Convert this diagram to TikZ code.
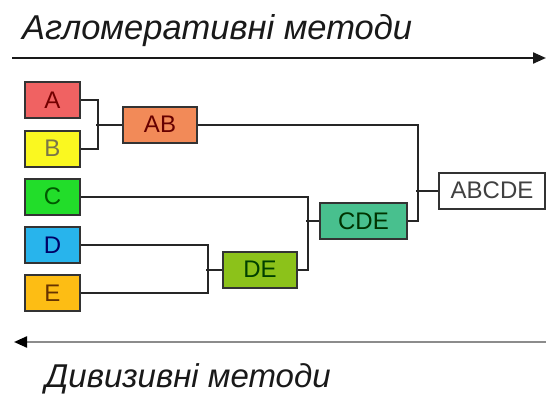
\documentclass[tikz,border=0pt]{standalone}
\usepackage{fontspec}
\setmainfont{Liberation Sans}
\usetikzlibrary{calc,arrows.meta}
\definecolor{cA}{HTML}{F06262}
\definecolor{cB}{HTML}{FAF820}
\definecolor{cC}{HTML}{22DD2A}
\definecolor{cD}{HTML}{28B4EC}
\definecolor{cE}{HTML}{FDBD14}
\definecolor{cAB}{HTML}{F28A58}
\definecolor{cDE}{HTML}{8CC21A}
\definecolor{cCDE}{HTML}{48C08E}
\tikzset{
  box/.style={draw=black!80, line width=2pt, minimum height=36pt, inner sep=0pt,
    font=\fontsize{24}{24}\selectfont},
  leaf/.style={box, minimum width=55pt},
  link/.style={draw=black!85, line width=2pt},
  axis/.style={line width=2.2pt, -{Triangle[length=13pt,width=11pt]}},
  title/.style={font=\fontsize{33}{33}\selectfont\itshape, anchor=base west, inner sep=0pt, text=black!90}
}
\begin{document}
\begin{tikzpicture}[x=1pt,y=-1pt]
\useasboundingbox (0,0) rectangle (546,396);
% titles
\node[title, font=\fontsize{34.5}{34.5}\selectfont\itshape] (t1) at (22,40) {Агломеративні методи};
\node[title] (t2) at (45,387) {Дивизивні методи};
\coordinate (a1s) at (12,58);
\coordinate (a1e) at (546,58);
\coordinate (a2s) at (546,342);
\coordinate (a2e) at (14,342);
\draw[axis, black!90] (a1s) -- (a1e);
\draw[axis, draw=black!45, -{Triangle[length=13pt,width=11pt,fill=black,color=black]}] (a2s) -- (a2e);
% leaves
\node[leaf, fill=cA, text=red!45!black] (A) at (52.5,100) {A};
\node[leaf, fill=cB, text=black!60!yellow] (B) at (52.5,148.5) {B};
\node[leaf, fill=cC, text=green!35!black] (C) at (52.5,196.5) {C};
\node[leaf, fill=cD, text=blue!40!black] (D) at (52.5,245) {D};
\node[leaf, fill=cE, text=orange!40!black] (E) at (52.5,293) {E};
% clusters
\node[box, fill=cAB, minimum width=74pt, text=red!40!black] (AB) at (160,124.5) {AB};
\node[box, fill=cDE, minimum width=74pt, text=green!25!black] (DE) at (260,269.5) {DE};
\node[box, fill=cCDE, minimum width=87pt, text=green!20!black] (CDE) at (363.5,221) {CDE};
\node[box, fill=white, minimum width=106pt, text=black!75] (ABCDE) at (492,190.5) {ABCDE};
% connectors
\draw[link] (A.east) -| ($(B.east)+(17,0)$) -- (B.east);
\draw[link] (AB.west) -- ++(-26,0);
\draw[link] (D.east) -| ($(E.east)+(127,0)$) -- (E.east);
\draw[link] (DE.west) -- ++(-16,0);
\draw[link] (C.east) -| ($(DE.east)+(10,0)$) -- (DE.east);
\draw[link] (CDE.west) -- ++(-13,0);
\draw[link] (AB.east) -| ($(CDE.east)+(10,0)$) -- (CDE.east);
\draw[link] (ABCDE.west) -- ++(-22,0);
\end{tikzpicture}
\end{document}
